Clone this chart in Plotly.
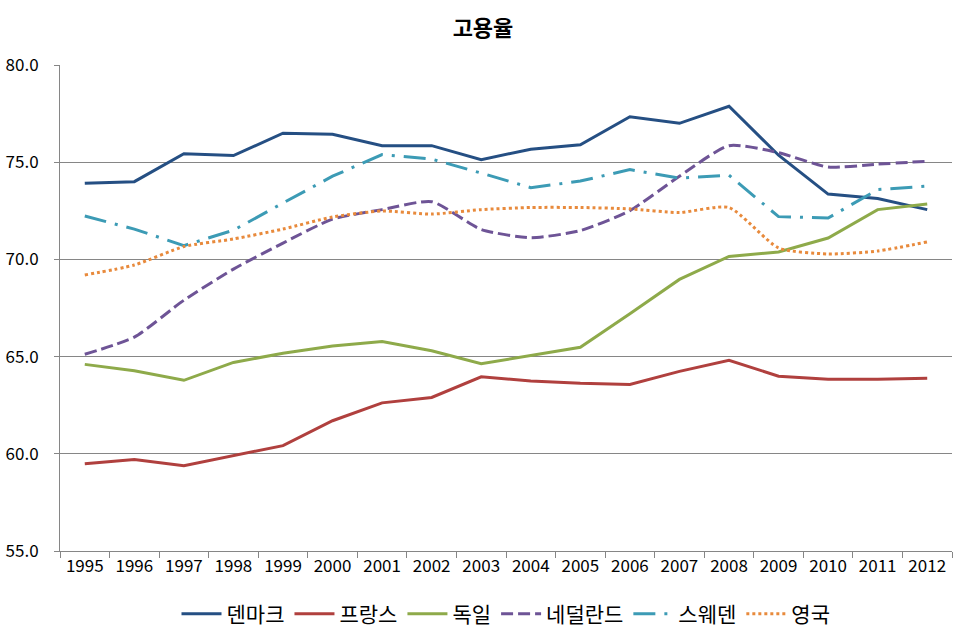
import plotly.graph_objects as go

years = [str(y) for y in range(1995, 2013)]

denmark = [73.92, 74.00, 75.44, 75.34, 76.49, 76.44, 75.85, 75.85, 75.13, 75.67, 75.90, 77.34, 77.00, 77.88, 75.36, 73.36, 73.13, 72.56]
france = [59.49, 59.70, 59.39, 59.90, 60.42, 61.70, 62.62, 62.90, 63.96, 63.75, 63.63, 63.57, 64.24, 64.81, 63.99, 63.83, 63.83, 63.88]
germany = [64.60, 64.27, 63.78, 64.70, 65.17, 65.55, 65.78, 65.30, 64.63, 65.04, 65.48, 67.20, 68.97, 70.15, 70.38, 71.10, 72.56, 72.85]
netherlands = [65.12, 66.00, 67.90, 69.50, 70.84, 72.07, 72.56, 72.97, 71.54, 71.12, 71.48, 72.51, 74.28, 75.85, 75.49, 74.75, 74.90, 75.05]
sweden = [72.23, 71.56, 70.71, 71.50, 72.90, 74.28, 75.39, 75.16, 74.44, 73.69, 74.03, 74.62, 74.18, 74.33, 72.20, 72.13, 73.59, 73.77]
uk = [69.20, 69.71, 70.66, 71.05, 71.56, 72.18, 72.49, 72.33, 72.56, 72.67, 72.67, 72.60, 72.41, 72.67, 70.59, 70.28, 70.43, 70.90]

series = [
    ("덴마크", denmark, "#254F83", "solid", "linear"),
    ("프랑스", france, "#B0403E", "solid", "linear"),
    ("독일", germany, "#8EAA4A", "solid", "linear"),
    ("네덜란드", netherlands, "#6E5496", "12px,5px", "spline"),
    ("스웨덴", sweden, "#3C9BB5", "22px,9px,3px,9px", "linear"),
    ("영국", uk, "#E88A3C", "3px,3px", "spline"),
]

fig = go.Figure()
for name, vals, color, dash, shape in series:
    line = dict(color=color, width=3, dash=dash, shape=shape)
    if shape == "spline":
        line["smoothing"] = 0.6
    fig.add_trace(go.Scatter(x=years, y=vals, name=name, mode="lines", line=line))

font_family = "Noto Sans CJK KR"
fig.update_layout(
    width=966, height=628,
    margin=dict(l=60, r=14, t=65, b=77, autoexpand=False),
    paper_bgcolor="white", plot_bgcolor="white",
    font=dict(family=font_family, size=17, color="#000000"),
    title=dict(text="<b>고용율</b>", x=0.5, xanchor="center", y=1 - 28 / 628, yanchor="middle",
               font=dict(family=font_family, size=22, color="#000000")),
    showlegend=True,
    legend=dict(orientation="h", x=0.5, xanchor="center", y=-0.13, yanchor="middle",
                font=dict(family=font_family, size=21), itemwidth=40,
                traceorder="normal"),
    xaxis=dict(type="category", range=[-0.5, 17.5], showline=True, linecolor="#868686", linewidth=1,
               ticks="outside", tickson="boundaries", ticklen=6, tickcolor="#868686",
               showgrid=False, tickfont=dict(size=17), automargin=False),
    yaxis=dict(range=[55, 80], dtick=5, tickformat=".1f", showline=True,
               linecolor="#868686", linewidth=1, ticks="outside", ticklen=5,
               tickcolor="#868686", showgrid=True, gridcolor="#868686", gridwidth=1,
               zeroline=False, tickfont=dict(size=17), automargin=False,
               ticklabelstandoff=12),
)

fig.write_html("out.html", config={"displayModeBar": False},
               post_script="document.body.style.margin='0';")
